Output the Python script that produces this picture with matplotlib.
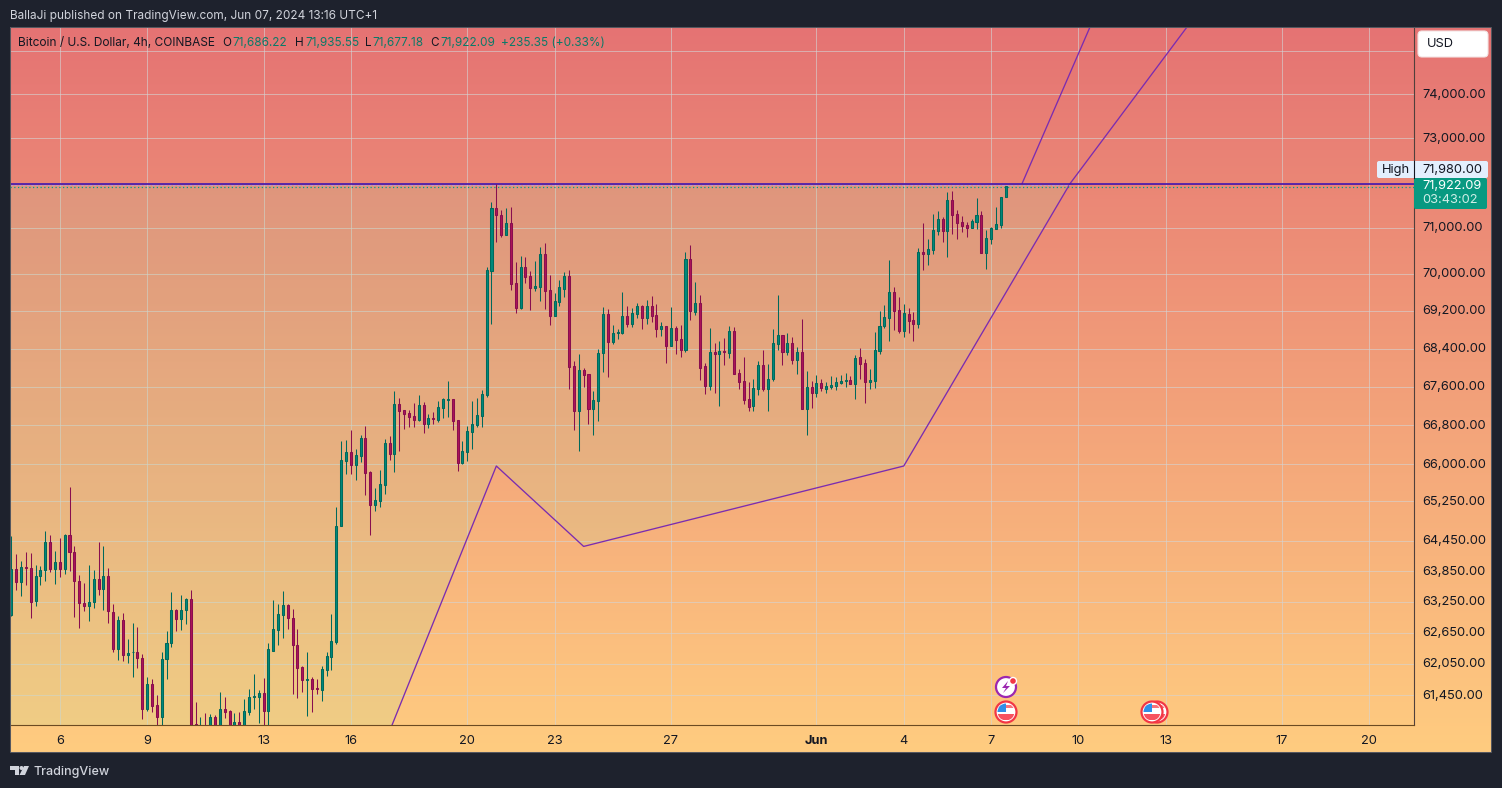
import numpy as np
import matplotlib
matplotlib.use("Agg")
import matplotlib.pyplot as plt
from matplotlib.patches import Circle, FancyBboxPatch, Polygon, Rectangle
from matplotlib.ticker import NullLocator
from matplotlib.transforms import ScaledTranslation

# --- Data (BTC/USD 4h, first bar May 4 08:00) ---
opens = [
    62985, 63890, 63630, 63938, 63912, 63257, 63748, 63866, 64434, 63886,
    64038, 63886, 64574, 64236, 63656, 63232, 63159, 63238, 63702, 63493,
    63761, 63055, 62326, 62894, 62211, 62269, 62282, 62160, 61184, 61670,
    61253, 61033, 62134, 62442, 63088, 62907, 63081, 63309, 60908, 60700,
    60850, 60750, 61027, 60800, 61178, 61140, 60800, 60933, 60820, 61121,
    61404, 61404, 61480, 61140, 62301, 62706, 62997, 63192, 62939, 62416,
    61992, 61746, 61765, 61575, 61537, 61934, 62186, 62474, 64755, 66064,
    66241, 65982, 66166, 66529, 65833, 65170, 65251, 65575, 66426, 66200,
    67233, 67108, 67045, 66983, 66900, 67212, 66818, 66942, 66900, 67150,
    67316, 67336, 66900, 66017, 66248, 66660, 66797, 66983, 67419, 70065,
    71438, 71282, 70843, 71107, 69797, 69260, 70143, 69949, 69690, 69711,
    70428, 69647, 69088, 69388, 69668, 69949, 68028, 67087, 67944, 67859,
    67128, 67295, 68300, 69131, 68534, 68726, 68726, 69088, 68918, 69131,
    69303, 69045, 69303, 69110, 68811, 68875, 68449, 68832, 68598, 68365,
    70319, 69174, 69367, 68028, 67608, 68322, 68279, 68343, 68300, 68769,
    67880, 67712, 67336, 67191, 67543, 68045, 67543, 67754, 68492, 68684,
    68322, 68513, 68150, 68322, 67128, 67586, 67461, 67670, 67543, 67586,
    67608, 67670, 67712, 67733, 67649, 68217, 68087, 67691, 67712, 68343,
    68875, 69045, 69604, 69217, 68769, 69131, 69003, 68918, 70471, 70428,
    70514, 70928, 71194, 70928, 71615, 71304, 71129, 71062, 70997, 71129,
    71282, 70450, 70756, 70975, 71062, 71686.22,
]
highs = [
    64555, 64196, 64058, 64236, 64216, 63972, 63958, 64654, 64574, 64256,
    64516, 64594, 65540, 64355, 63780, 63623, 63978, 63879, 64434, 64355,
    63919, 63212, 62978, 63036, 62531, 62842, 62764, 62237, 61802, 61765,
    61442, 62282, 62687, 63447, 63107, 63388, 63329, 63486, 61310, 61027,
    61102, 61083, 61065, 61499, 61404, 61159, 61102, 61121, 61366, 61556,
    61859, 61537, 61783, 62454, 63290, 63212, 63466, 63212, 63114, 62725,
    62011, 62282, 61802, 61765, 62011, 62282, 63017, 65135, 66467, 66488,
    66694, 66302, 66591, 66777, 65853, 65507, 65873, 66508, 66570, 67504,
    67356, 67108, 67108, 67253, 67419, 67274, 67024, 67066, 67295, 67356,
    67712, 67340, 66905, 66467, 66777, 67295, 67356, 67525, 70143, 71568,
    71970, 71393, 71438, 71460, 70253, 70384, 70362, 70056, 70275, 70580,
    70667, 69971, 69582, 69862, 70036, 70080, 68132, 68279, 67986, 67865,
    67504, 68386, 69281, 69238, 68896, 68811, 69604, 69303, 69253, 69367,
    69324, 69432, 69517, 69345, 68960, 68880, 69281, 68875, 68896, 70471,
    70623, 69819, 69539, 68087, 68832, 68513, 68556, 68619, 68875, 68854,
    67965, 68217, 67691, 67754, 68132, 68365, 68066, 68811, 69539, 68690,
    68726, 68641, 68428, 69024, 67923, 67712, 67838, 67754, 67691, 67817,
    67796, 67838, 67880, 67817, 68258, 68407, 68171, 67965, 68747, 69195,
    69324, 70297, 69711, 69496, 69345, 69260, 69174, 70558, 71107, 70756,
    71304, 71370, 71238, 71792, 71814, 71393, 71260, 71129, 71194, 71659,
    71370, 70950, 71020, 71460, 71690, 71935.55,
]
lows = [
    62965, 63486, 63355, 63571, 62926, 63159, 63571, 63649, 63840, 63591,
    63728, 63787, 63846, 62945, 62732, 63062, 62868, 63120, 63375, 63081,
    62829, 62269, 62115, 62096, 62058, 61790, 61960, 61000, 61146, 61121,
    60850, 60800, 61752, 62365, 62674, 62693, 62810, 60700, 60700, 60500,
    60550, 60650, 60700, 60750, 61008, 60700, 60700, 60750, 60780, 61071,
    61178, 60915, 60850, 60850, 62301, 62416, 62551, 62725, 61461, 61385,
    61499, 61046, 61121, 61461, 61328, 61821, 61934, 62435, 64740, 65798,
    65798, 65676, 66044, 65372, 64561, 65049, 65130, 65393, 66078, 65839,
    66261, 66714, 66755, 66755, 66880, 66632, 66735, 66818, 66859, 66942,
    66962, 66694, 65853, 65996, 66057, 66302, 66755, 66755, 67377, 68918,
    70690, 70799, 70843, 69647, 69152, 69238, 69797, 69217, 69625, 69410,
    69238, 68896, 69088, 69303, 69496, 67543, 66694, 66261, 67586, 66818,
    66591, 66880, 67902, 67796, 68492, 68598, 68700, 68854, 68854, 69045,
    68811, 68918, 68960, 68641, 68662, 68087, 68449, 68279, 68217, 68322,
    69003, 69110, 67733, 67440, 67525, 67461, 67191, 68045, 68196, 67859,
    67543, 67233, 67087, 67087, 67419, 67504, 67087, 67712, 68365, 68045,
    68258, 68066, 67859, 67128, 66591, 67150, 67377, 67504, 67461, 67543,
    67525, 67649, 67586, 67649, 67336, 67754, 67253, 67543, 67564, 68279,
    68832, 68556, 68790, 68726, 68641, 68726, 68556, 68832, 70080, 70195,
    70428, 70843, 70690, 70362, 70865, 70756, 70906, 70799, 70997, 70975,
    70450, 70110, 70645, 70975, 70997, 71677.18,
]
closes = [
    63890, 63630, 63938, 63906, 63238, 63761, 63873, 64434, 63886, 64038,
    63886, 64574, 64223, 63649, 63218, 63159, 63251, 63702, 63493, 63761,
    63062, 62326, 62894, 62211, 62256, 62282, 62154, 61184, 61670, 61240,
    61033, 62147, 62448, 63088, 62907, 63088, 63309, 60780, 60890, 60850,
    60700, 61027, 60800, 61178, 61121, 60800, 60933, 60820, 61140, 61404,
    61423, 61480, 61140, 62339, 62725, 63017, 63192, 62939, 62403, 61973,
    61746, 61765, 61556, 61556, 61953, 62205, 62493, 64755, 66080, 66241,
    65982, 66180, 66529, 65819, 65170, 65265, 65588, 66426, 66200, 67233,
    67087, 67024, 66962, 66900, 67212, 66818, 66942, 66921, 67171, 67336,
    67336, 66880, 66017, 66261, 66673, 66818, 67003, 67440, 70080, 71438,
    71282, 70843, 71107, 69776, 69260, 70143, 69927, 69690, 69733, 70428,
    69625, 69088, 69410, 69711, 69949, 68007, 67087, 67944, 67838, 67128,
    67316, 68300, 69131, 68534, 68726, 68747, 69088, 68918, 69152, 69303,
    69045, 69303, 69088, 68811, 68875, 68449, 68832, 68577, 68365, 70319,
    69195, 69367, 67986, 67608, 68322, 68279, 68343, 68322, 68769, 67859,
    67691, 67316, 67171, 67564, 68045, 67543, 67754, 68513, 68684, 68322,
    68513, 68150, 68322, 67128, 67586, 67461, 67670, 67564, 67608, 67628,
    67691, 67712, 67733, 67649, 68196, 68066, 67691, 67733, 68365, 68875,
    69067, 69604, 69195, 68769, 69152, 68981, 68918, 70471, 70428, 70536,
    70950, 71194, 70928, 71615, 71282, 71107, 71040, 70997, 71150, 71282,
    70450, 70777, 70997, 71085, 71686, 71922.09,
]

# Price scale
price_ticks = [75000, 74000, 73000, 72000, 71000, 70000, 69200, 68400, 67600,
               66800, 66000, 65250, 64450, 63850, 63250, 62650, 62050, 61450]
price_labels = ["", "74,000.00", "73,000.00", "", "71,000.00", "70,000.00",
                "69,200.00", "68,400.00", "67,600.00", "66,800.00", "66,000.00",
                "65,250.00", "64,450.00", "63,850.00", "63,250.00", "62,650.00",
                "62,050.00", "61,450.00"]

# Time scale (bar number of each labelled day)
time_ticks = [10, 28, 52, 70, 94, 112, 136, 166, 184, 202, 220, 238, 262, 280]
time_labels = ["6", "9", "13", "16", "20", "23", "27", "Jun", "4", "7", "10", "13", "17", "20"]

# Drawn pattern, (bar, price)
high_price = 71980
last_price = 71922.09
price_top = 75549
price_bottom = 60884
pattern_x = [78.5, 100, 118, 184, 218.3, 242.4]
pattern_y = [price_bottom, 65960, 64340, 65960, high_price, price_top]
upper_x = [208.4, 222.4]
upper_y = [high_price, price_top]

W, H = 1502, 788
DARK = "#1e222d"
TEXT = "#131722"
FONT = "Inter"
AXIS_SIZE = 9.25
plt.rcParams["font.family"] = [FONT, "DejaVu Sans"]


def pane_rect(x0, y0, x1, y1):
    # Pixel box (y from the top) to figure fractions.
    return [x0 / W, 1 - y1 / H, (x1 - x0) / W, (y1 - y0) / H]


def draw_flag(ov, cx, cy, r=10.5, z=5):
    ring = Circle((cx, cy), r, fc="white", ec="#f23645", lw=1.6, zorder=z)
    ov.add_patch(ring)
    clip = Circle((cx, cy), r - 2, transform=ov.transData)
    for sy, c in [(-7, "#f7727c"), (-1.5, "white"), (1.5, "#f7525f"), (5, "#f7525f")]:
        stripe = Rectangle((cx - r, cy + sy), 2 * r, 3, fc=c, ec="none", zorder=z + 0.1)
        ov.add_patch(stripe)
        stripe.set_clip_path(clip)
    canton = Rectangle((cx - r, cy - r), r - 0.5, r - 0.5, fc="#2f8fe8", ec="none", zorder=z + 0.2)
    ov.add_patch(canton)
    canton.set_clip_path(clip)


fig = plt.figure(figsize=(W / 100, H / 100), dpi=100, facecolor=DARK)

# Gradient behind the pane and both scales
bg = fig.add_axes(pane_rect(10, 27, 1491, 752))
bg.axis("off")
top_col = np.array([229, 115, 115]) / 255
bot_col = np.array([255, 204, 128]) / 255
t = np.linspace(0, 1, 256)[:, None, None]
bg.imshow(top_col[None, None, :] * (1 - t) + bot_col[None, None, :] * t, aspect="auto")

ax = fig.add_axes(pane_rect(10, 27, 1414, 725), facecolor="none")
ax.set_yscale("log")
ax.set_xlim(-0.27, 289.2)
ax.set_ylim(price_bottom, price_top)

ax.yaxis.set_minor_locator(NullLocator())
ax.yaxis.tick_right()
ax.set_yticks(price_ticks)
ax.set_yticklabels(price_labels)
ax.set_xticks(time_ticks)
ax.set_xticklabels(time_labels)
ax.tick_params(axis="both", length=0, labelsize=AXIS_SIZE, labelcolor=TEXT)
ax.tick_params(axis="y", pad=5.8)
ax.tick_params(axis="x", pad=7.2)
ax.grid(True, color="#d4d4d4", alpha=0.6, lw=0.72)
ax.set_axisbelow(True)
for tick, lab in zip(ax.get_xticklabels(), time_labels):
    if lab == "Jun":
        tick.set_fontweight("bold")
# Price labels sit a little above their grid lines
label_shift = ScaledTranslation(0, 1 / 100, fig.dpi_scale_trans)
for tick in ax.get_yticklabels():
    tick.set_transform(tick.get_transform() + label_shift)

for side in ["top", "left"]:
    ax.spines[side].set_visible(False)
ax.spines["bottom"].set_color("#6b4a22")
ax.spines["right"].set_color("#50403c")
ax.spines["bottom"].set_linewidth(0.8)
ax.spines["right"].set_linewidth(0.8)

# Pattern fill and outline
x_left, x_right = ax.get_xlim()
fill_x = [x_left, pattern_x[4], pattern_x[3], pattern_x[2], pattern_x[1], pattern_x[0], x_left]
fill_y = [high_price, high_price, pattern_y[3], pattern_y[2], pattern_y[1], price_bottom, price_bottom]
tint = (170 / 255, 225 / 255, 160 / 255)
ax.fill(fill_x, fill_y, color=tint, alpha=0.17, lw=0, zorder=1)
ax.plot(pattern_x, pattern_y, color="#7b2cb0", lw=0.95, zorder=2)
ax.plot(upper_x, upper_y, color="#7b2cb0", lw=0.95, zorder=2)
ax.plot([x_left, pattern_x[4]], [71955, 71955], color="#b59ad8", lw=0.6, ls=(0, (3, 2)), zorder=2)
ax.axhline(high_price, color="#4a14a8", lw=1.25, zorder=2)

# Last price line
ax.axhline(last_price - 10, color="#00a08a", lw=0.9, ls=(0, (1, 2)), zorder=2)

# Candles
opens_a, highs_a = np.array(opens), np.array(highs)
lows_a, closes_a = np.array(lows), np.array(closes)
bars = np.arange(len(closes_a))
up = closes_a >= opens_a
for mask, face, edge in [(up, "#00897b", "#00695c"), (~up, "#ad1457", "#880e4f")]:
    ax.vlines(bars[mask], lows_a[mask], highs_a[mask], color=edge, lw=0.75, zorder=3)
    ax.bar(bars[mask], (closes_a - opens_a)[mask], bottom=opens_a[mask], width=0.42,
           facecolor=face, edgecolor=edge, lw=0.75, zorder=4)

# Everything else is chart chrome, drawn in pixels
ov = fig.add_axes([0, 0, 1, 1], facecolor="none")
ov.set_xlim(0, W)
ov.set_ylim(H, 0)
ov.axis("off")

ov.add_patch(Rectangle((10, 27), 1481, 725, fc="none", ec="#55575f", lw=0.75, zorder=1))

ov.text(10, 15.5, "BallaJi published on TradingView.com, Jun 07, 2024 13:16 UTC+1",
        color="#d1d4dc", fontsize=8.5, va="center")

GREEN = "#0b7a68"
ov.text(18, 42.5, "Bitcoin / U.S. Dollar, 4h, COINBASE", color=TEXT, fontsize=8.55, va="center")
for x, head, val in [(222, "O", "71,686.22"), (295, "H", "71,935.55"),
                     (365, "L", "71,677.18"), (430, "C", "71,922.09")]:
    ov.text(x, 42.5, head, color=TEXT, fontsize=8.4, va="center")
    ov.text(x + 10 - (head == "L") * 3, 42.5, val, color=GREEN, fontsize=8.5, va="center")
ov.text(501, 42.5, "+235.35 (+0.33%)", color=GREEN, fontsize=8.5, va="center")

# USD button
ov.add_patch(FancyBboxPatch((1420, 33), 66, 22, boxstyle="round,pad=2,rounding_size=4",
                            fc="white", ec="#f3e3e3", lw=0.8, zorder=5))
ov.text(1427, 44, "USD", color=TEXT, fontsize=AXIS_SIZE, va="center", zorder=6)

# High and last price labels
ov.add_patch(FancyBboxPatch((1378, 162), 109, 15, boxstyle="round,pad=1,rounding_size=2",
                            fc="#e3effd", ec="none", zorder=5))
ov.plot([1414, 1414], [161, 178], color=TEXT, lw=0.8, zorder=6)
ov.text(1382, 169.5, "High", color=TEXT, fontsize=AXIS_SIZE, va="center", zorder=6)
ov.text(1422, 169.5, "71,980.00", color=TEXT, fontsize=AXIS_SIZE, va="center", zorder=6)
ov.add_patch(FancyBboxPatch((1415, 179), 71, 29, boxstyle="round,pad=1,rounding_size=2",
                            fc="#089981", ec="none", zorder=5))
ov.text(1422, 186, "71,922.09", color="white", fontsize=AXIS_SIZE, va="center", zorder=6)
ov.text(1422, 200, "03:43:02", color="#cfeee7", fontsize=AXIS_SIZE, va="center", zorder=6)

# Event icons
ov.add_patch(Circle((1006, 687), 10, fc="white", ec="#9c27b0", lw=1.6, zorder=5))
ov.add_patch(Polygon([(1008, 681), (1002, 688), (1006, 688), (1003, 693), (1010, 686), (1006, 686)],
                     fc="#9c27b0", ec="none", zorder=6))
ov.add_patch(Circle((1013, 681), 3.5, fc="#f23645", ec="white", lw=1, zorder=6))
draw_flag(ov, 1157, 712, z=5)
draw_flag(ov, 1152, 712, z=7)
draw_flag(ov, 1006, 712, z=5)

# TradingView logo
LOGO = "#d1d4dc"
ov.add_patch(Polygon([(10, 766), (19, 766), (19, 775), (15, 775), (15, 770), (10, 770)], fc=LOGO, ec="none"))
ov.add_patch(Circle((21.5, 768), 2, fc=LOGO, ec="none"))
ov.add_patch(Polygon([(24, 766), (29, 766), (25, 775), (19.5, 775)], fc=LOGO, ec="none"))
ov.text(33, 771.5, "TradingView", color=LOGO, fontsize=9.0, va="center", fontweight="medium")

fig.savefig("out.png", dpi=100, facecolor=DARK)
